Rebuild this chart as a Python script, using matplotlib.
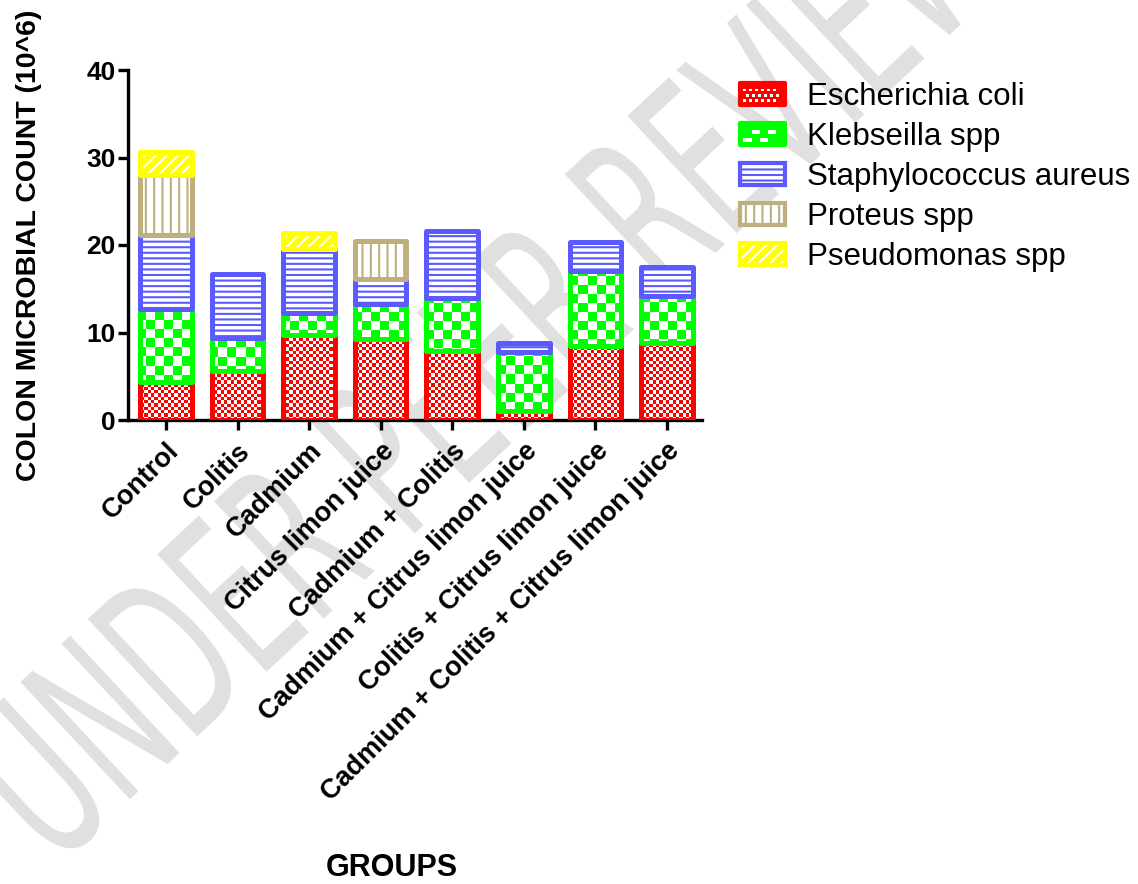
import numpy as np
import matplotlib
matplotlib.use("Agg")
import matplotlib.pyplot as plt
from matplotlib.colors import to_rgb
from matplotlib.patches import Patch, PathPatch, Rectangle
from matplotlib.legend_handler import HandlerBase
from matplotlib.textpath import TextPath
from matplotlib.font_manager import FontProperties
from matplotlib.transforms import Affine2D, IdentityTransform

# data (counts x 10^6)
groups = ["Control", "Colitis", "Cadmium", "Citrus limon juice", "Cadmium + Colitis",
          "Cadmium + Citrus limon juice", "Colitis + Citrus limon juice",
          "Cadmium + Colitis + Citrus limon juice"]
species = ["Escherichia coli", "Klebseilla spp", "Staphylococcus aureus",
           "Proteus spp", "Pseudomonas spp"]
e_coli = [4.3, 5.6, 9.7, 9.3, 7.9, 1.0, 8.5, 8.8]
klebsiella = [8.4, 3.8, 2.5, 4.0, 6.0, 6.8, 8.5, 5.4]
staph = [8.4, 7.3, 7.3, 2.8, 7.7, 1.0, 3.3, 3.3]
proteus = [6.9, 0, 0, 4.4, 0, 0, 0, 0]
pseudomonas = [2.6, 0, 1.9, 0, 0, 0, 0, 0]
yticks = [0, 10, 20, 30, 40]

series = [e_coli, klebsiella, staph, proteus, pseudomonas]
colors = ["#FF0000", "#00FF00", "#5A5AFF", "#BFAF7F", "#FFFF00"]
# fill style per series: ("checker", cell px) or ("hatch", face, hatch colour, hatch)
fills = [
    ("checker", 3.3),
    ("checker", 9.0),
    ("hatch", "white", "#5A5AFF", "---"),
    ("hatch", "white", "#BFAF7F", "||"),
    ("hatch", "#FFFF00", "white", "///"),
]

XLIM = (-0.53, 7.49)
YLIM = (0, 40)
AX_W, AX_H = 702 - 128, 350  # axes size in pixels


def checker_image(cell, color):
    nx = int(np.ceil(AX_W / cell))
    ny = int(np.ceil(AX_H / cell))
    jj, ii = np.meshgrid(np.arange(nx), np.arange(ny))
    mask = (ii + jj) % 2 == 0
    img = np.ones((ny, nx, 3))
    img[mask] = to_rgb(color)
    x1 = XLIM[0] + nx * cell * (XLIM[1] - XLIM[0]) / AX_W
    y1 = YLIM[0] + ny * cell * (YLIM[1] - YLIM[0]) / AX_H
    return img, (XLIM[0], x1, YLIM[0], y1)


class HandlerChecker(HandlerBase):
    def __init__(self, color, cell_pt, rows):
        super().__init__()
        self.color, self.cell, self.rows = color, cell_pt, rows

    def create_artists(self, legend, orig_handle, xdescent, ydescent,
                       width, height, fontsize, trans):
        x0, y0 = -xdescent, -ydescent
        arts = [Rectangle((x0, y0), width, height, facecolor=self.color,
                          edgecolor="none", transform=trans)]
        inset = 2.5
        cw = self.cell
        ch = (height - 2 * inset) / self.rows
        ncol = int((width - 2 * inset) / cw)
        for r in range(self.rows):
            for c in range(ncol):
                if (r + c) % 2 == 0:
                    arts.append(Rectangle((x0 + inset + c * cw, y0 + inset + r * ch),
                                          cw, ch * 0.55, facecolor="white",
                                          edgecolor="none", transform=trans))
        arts.append(Rectangle((x0, y0), width, height, fill=False,
                              edgecolor=self.color, linewidth=3.0,
                              joinstyle="round", transform=trans))
        return arts


plt.rcParams["font.family"] = ["Liberation Sans", "DejaVu Sans"]
plt.rcParams["hatch.linewidth"] = 1.5
fig = plt.figure(figsize=(11.38, 8.84), dpi=100)
ax = fig.add_axes([128 / 1138, 1 - 420 / 884, AX_W / 1138, AX_H / 884])
ax.patch.set_facecolor("none")

# watermark behind everything
tp = TextPath((0, 0), "UNDER PEER REVIEW", size=220,
              prop=FontProperties(family="DejaVu Sans"))
wm_tr = Affine2D().scale(0.56, 1.0).rotate_deg(43).translate(55, 15)
wm = PathPatch(tp, facecolor="#e0e0e0", edgecolor="none",
               transform=wm_tr + IdentityTransform(), zorder=-5)
fig.add_artist(wm)

x = np.arange(len(groups))
width = 0.72
bottom = np.zeros(len(groups))
handles = []
handler_map = {}
for vals, color, fill in zip(series, colors, fills):
    vals = np.array(vals, dtype=float)
    keep = vals > 0
    if fill[0] == "checker":
        base = ax.bar(x[keep], vals[keep], width, bottom=bottom[keep],
                      color="white", linewidth=0, zorder=2)
        img, ext = checker_image(fill[1], color)
        for b in base:
            im = ax.imshow(img, extent=ext, origin="lower", aspect="auto",
                           interpolation="nearest", zorder=2.5)
            im.set_clip_path(b)
        h = Patch(facecolor=color)
        handler_map[h] = HandlerChecker(color, fill[1] * 0.72 * 0.9,
                                        2 if fill[1] > 5 else 3)
    else:
        _, face, hcol, hatch = fill
        ax.bar(x[keep], vals[keep], width, bottom=bottom[keep],
               color=face, edgecolor=hcol, hatch=hatch, linewidth=0, zorder=2)
        h = (Patch(facecolor=face, edgecolor=hcol, hatch=hatch, linewidth=0),
             Patch(fill=False, edgecolor=color, linewidth=3.0, joinstyle="round"))
    ax.bar(x[keep], vals[keep], width, bottom=bottom[keep], fill=False,
           edgecolor=color, linewidth=3.6, joinstyle="round", zorder=3)
    bottom += vals
    handles.append(h)

ax.set_xlim(*XLIM)
ax.set_ylim(*YLIM)
ax.set_yticks(yticks)
ax.set_xticks(x)
ax.set_xticklabels(groups, rotation=45, ha="right", rotation_mode="anchor",
                   fontsize=19.5, fontweight="bold")
for lab in ax.get_yticklabels():
    lab.set_fontsize(19)
    lab.set_fontweight("bold")
for s in ["top", "right"]:
    ax.spines[s].set_visible(False)
for s in ["left", "bottom"]:
    ax.spines[s].set_linewidth(2.4)
ax.tick_params(axis="both", length=7, width=2.4, direction="out")
ax.tick_params(axis="y", pad=2)
ax.tick_params(axis="x", pad=6)

ax.set_ylabel("COLON MICROBIAL COUNT (10^6)", fontsize=20.5, fontweight="bold",
              labelpad=32)
fig.text(392 / 1138, 1 - 868 / 884, "GROUPS", fontsize=22, fontweight="bold",
         ha="center", va="center")

fig.legend(handles, species, handler_map=handler_map, loc="upper left",
           bbox_to_anchor=(740 / 1138, 1 - 82 / 884), frameon=False,
           fontsize=22.5, handlelength=1.45, handleheight=0.74,
           handletextpad=0.68, labelspacing=0.32, borderpad=0,
           borderaxespad=0)

fig.savefig("out.png", dpi=100)
